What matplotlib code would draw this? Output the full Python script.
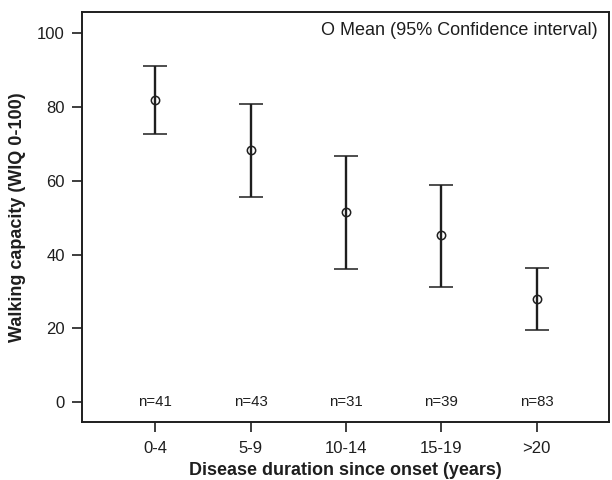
import numpy as np
import matplotlib
matplotlib.use("Agg")
import matplotlib.pyplot as plt

plt.rcParams['font.family'] = ['Liberation Sans', 'DejaVu Sans']

groups = ["0-4", "5-9", "10-14", "15-19", ">20"]
means = [81.8, 68.2, 51.4, 45.3, 27.9]
upper = [91.0, 80.8, 66.7, 58.9, 36.4]
lower = [72.7, 55.6, 36.0, 31.3, 19.5]
counts = [41, 43, 31, 39, 83]

ink = "#1e1e1e"
x = np.arange(1, len(groups) + 1)
means = np.array(means)
yerr = [means - np.array(lower), np.array(upper) - means]

fig = plt.figure(figsize=(6.12, 4.8), dpi=100)
ax = fig.add_axes([0.134, 0.1208, 0.861, 0.854])

ax.errorbar(x, means, yerr=yerr, fmt="o", color=ink, ecolor=ink,
            elinewidth=1.7, capsize=8.6, capthick=1.8,
            markersize=6, markerfacecolor="none", markeredgewidth=1.1,
            markeredgecolor=ink)

for xi, n in zip(x, counts):
    ax.text(xi, 0, f"n={n}", ha="center", va="center", fontsize=10.8, color=ink)

ax.text(0.979, 0.956, "O Mean (95% Confidence interval)", transform=ax.transAxes,
        ha="right", va="center", fontsize=13, color=ink)

ax.set_xlim(0.23, 5.76)
ax.set_ylim(-5.4, 105.7)
ax.set_xticks(x)
ax.set_xticklabels(groups)
ax.set_yticks([0, 20, 40, 60, 80, 100])

ax.tick_params(axis="both", labelsize=12, colors=ink, width=1.2, length=7.5, pad=5)
ax.tick_params(axis="x", pad=6.5)
for sp in ax.spines.values():
    sp.set_color(ink)
    sp.set_linewidth(1.4)

ax.set_xlabel("Disease duration since onset (years)", fontsize=13, fontweight="bold",
              color=ink, labelpad=4)
ax.set_ylabel("Walking capacity (WIQ 0-100)", fontsize=13, fontweight="bold",
              color=ink, labelpad=8)

fig.savefig("out.png", dpi=100)
